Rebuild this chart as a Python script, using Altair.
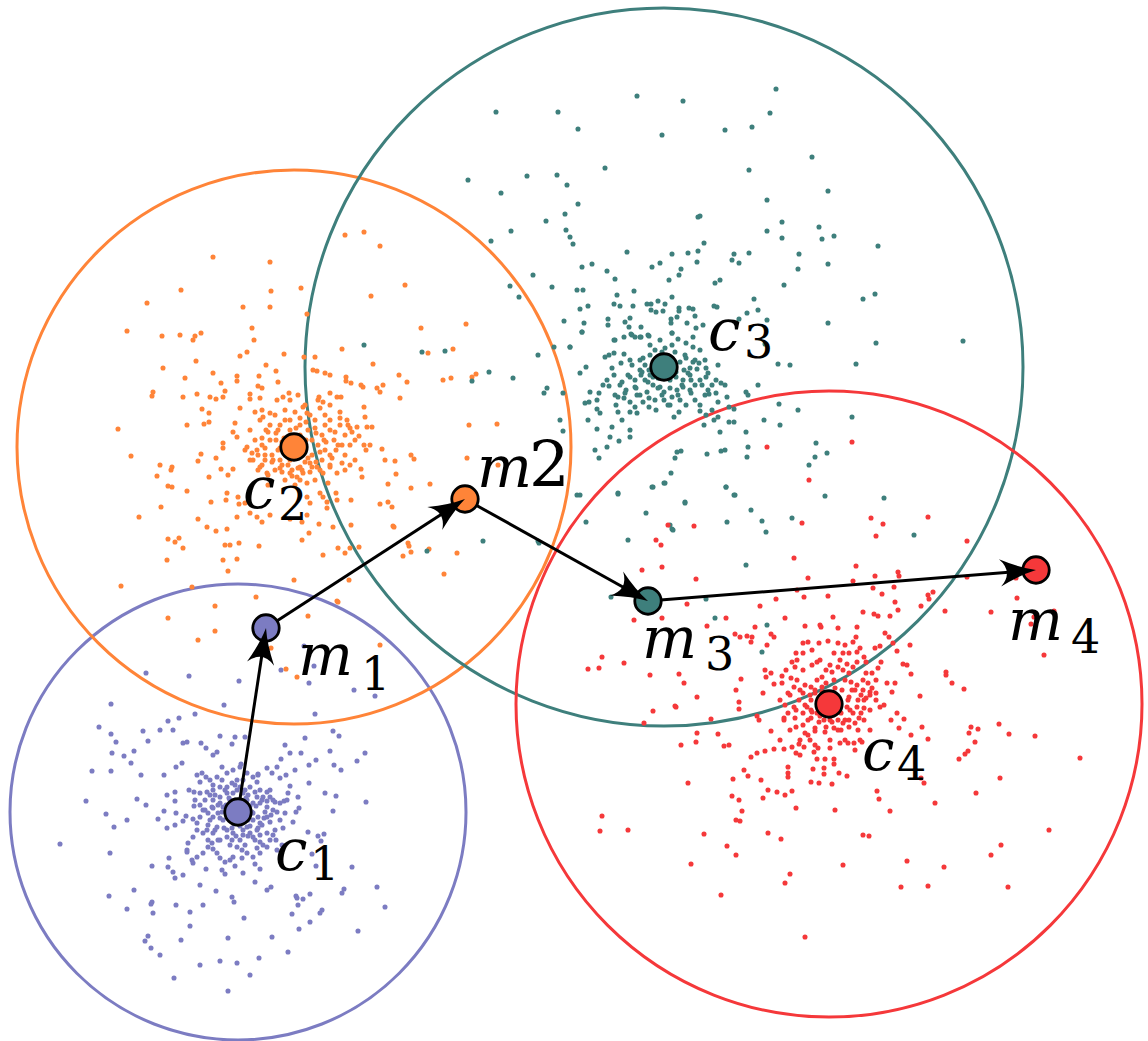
import math
import altair as alt
import pandas as pd

W, H = 1148, 1041

# ---------------- data (picture units, y downward) ----------------
cluster_names = ["c1", "c2", "c3", "c4"]
center_x = [238, 294, 664, 829]
center_y = [812, 447, 367, 704]
radius = [228, 277, 359, 313]
colors = ["#7c7cc2", "#ff8438", "#3e7f7c", "#f5383a"]

mean_names = ["m1", "m2", "m3", "m4"]
mean_x = [266, 465, 648, 1036]
mean_y = [628, 499, 601, 570]

blue_points = [
    (146,673),(189,676),(239,681),(281,670),(304,646),(314,666),(309,683),(354,690),(375,696),(315,714),
    (224,705),(195,714),(179,718),(168,721),(111,704),(99,727),(111,734),(116,742),(143,731),(160,730),
    (173,730),(148,741),(134,751),(112,753),(124,756),(131,763),(92,771),(111,771),(141,775),(164,775),
    (176,767),(182,763),(183,743),(187,742),(201,743),(206,748),(213,755),(217,752),(220,736),(232,744),
    (235,737),(245,737),(241,764),(285,745),(305,738),(333,731),(339,736),(290,753),(301,753),(330,751),
    (365,753),(357,761),(316,760),(309,765),(334,765),(341,770),(281,759),(267,768),(272,773),(277,767),
    (286,775),(295,770),(258,774),(280,778),(290,786),(309,783),(325,793),(336,796),(366,802),(333,811),
    (298,797),(288,793),(284,801),(275,802),(267,801),(299,808),(296,812),(285,813),(293,822),(86,801),
    (137,799),(146,805),(106,814),(127,820),(114,827),(60,844),(110,853),(158,819),(164,811),(167,828),
    (176,813),(175,825),(183,821),(186,816),(193,819),(194,806),(175,792),(167,795),(175,801),(189,790),
    (194,792),(308,832),(318,836),(324,834),(321,841),(312,854),(316,866),(352,867),(377,887),(385,907),
    (344,889),(342,893),(310,894),(303,899),(297,898),(296,896),(298,905),(310,922),(320,913),(322,910),
    (292,914),(299,929),(358,931),(271,887),(267,890),(255,882),(260,869),(243,873),(216,891),(232,897),
    (234,902),(200,885),(183,875),(175,878),(173,872),(168,867),(169,858),(152,866),(187,850),(193,863),
    (206,869),(225,874),(134,890),(109,896),(152,902),(151,904),(153,913),(127,909),(176,905),(203,905),
    (190,912),(190,926),(244,918),(272,937),(228,938),(181,940),(148,936),(145,941),(151,948),(160,955),
    (220,961),(237,963),(259,958),(288,952),(200,965),(174,978),(250,975),(228,991),
    (197,775),(202,773),(206,777),(200,782),(210,780),(213,785),(222,767),(227,773),(233,770),(240,767),
    (247,773),(253,777),(258,775),(257,782),(250,787),(260,790),(267,792),(270,790),(273,800),(280,803),
    (287,800),(273,810),(267,817),(270,822),(275,830),(273,835),(270,840),(267,847),(263,845),(260,842),
    (257,848),(260,853),(253,857),(247,853),(242,850),(237,847),(233,857),(230,860),(225,862),(220,858),
    (217,853),(213,849),(208,847),(203,853),(197,857),(192,860),(187,852),(188,843),(193,837),(197,830),
    (203,833),(207,830),(208,840),(213,833),(220,840),(227,837),(232,840),(240,840),(243,835),(250,833),
    (257,830),(260,823),(258,817),(253,813),(253,803),(247,800),(243,793),(237,790),(233,793),(227,793),
    (220,797),(213,800),(212,807),(208,813),(203,810),(200,817),(197,823),(195,800),(200,793),(207,792),
    (213,790),(220,787),(227,787),(230,800),(247,813),(253,820),(267,807),(260,803),(223,820),(217,827),
    (213,817),(210,820),(223,807),(220,803),(227,830),(233,833),(243,830),(247,827),(253,837),(260,835),
    (267,833),(240,787),(243,780),(237,780),(232,783),(217,777),(222,780),(248,795),(257,797),(263,797),
    (270,797),(227,813),(213,808),(218,813),(226,805),(230,818),(245,806),(248,820),(234,824),(222,812),
    (252,812),(240,826),(229,798),(246,798),(256,806),(220,818),(235,800),(250,826),
    (215,795),(225,790),(235,785),(245,790),(255,792),(262,800),(265,812),(262,825),(255,840),(245,845),
    (230,845),(218,840),(208,825),(205,810),(210,795),(218,805),(228,808),(236,815),(244,818),(250,806),
    (240,800),(232,828),(224,828),(258,828),(264,818),(271,815),(277,812),(280,820),(276,840),(283,828),
    (205,800),(200,805),(215,830),(236,836),(248,836),(212,843),(242,858),(255,864),(235,866),(222,870),
    (277,850),(282,845),
]

orange_points = [
    (213,257),(270,262),(345,235),(364,232),(380,246),(181,290),(271,291),(301,288),(147,303),(243,307),
    (270,307),(307,314),(371,296),(405,285),(127,331),(162,336),(180,335),(193,340),(195,336),(201,333),
    (252,328),(254,340),(247,352),(240,356),(284,354),(304,357),(315,357),(342,349),(421,328),(466,324),
    (428,353),(453,349),(163,368),(196,361),(213,373),(221,383),(185,378),(153,392),(152,396),(183,397),
    (197,394),(210,397),(216,399),(223,397),(225,391),(237,376),(237,381),(259,376),(258,386),(262,388),
    (266,365),(276,371),(278,382),(313,370),(317,371),(325,373),(330,375),(346,377),(346,381),(351,383),
    (361,385),(363,387),(373,364),(377,388),(383,385),(380,392),(399,375),(407,382),(400,398),(443,380),
    (451,378),(472,377),(476,374),(118,429),(187,425),(202,409),(209,413),(204,424),(209,422),(235,423),
    (240,408),(250,394),(250,399),(255,412),(260,398),(263,417),(270,413),(277,400),(283,397),(289,393),
    (298,395),(303,407),(307,413),(319,397),(323,402),(330,393),(337,397),(341,397),(347,420),(350,428),
    (357,427),(365,417),(364,407),(367,427),(372,427),(359,436),(364,445),(370,445),(366,450),(382,449),
    (385,460),(395,461),(411,455),(414,459),(467,458),(469,425),(497,424),(131,456),(160,465),(172,467),
    (171,470),(157,476),(168,486),(172,487),(187,491),(201,454),(198,461),(216,458),(209,477),(221,469),
    (223,443),(223,448),(228,475),(233,469),(233,432),(237,437),(247,447),(252,453),(257,450),(253,460),
    (260,467),(267,473),(273,460),(280,468),(290,473),(297,477),(303,473),(307,483),(300,467),(310,463),
    (317,467),(323,473),(330,467),(328,483),(337,473),(342,463),(350,465),(361,469),(362,477),(388,484),
    (396,474),(411,488),(430,484),(161,507),(139,517),(211,502),(227,493),(226,500),(238,497),(239,504),
    (245,503),(250,513),(257,517),(262,522),(270,515),(237,517),(290,519),(302,522),(307,515),(307,497),
    (310,503),(320,493),(323,497),(327,502),(327,508),(336,493),(337,500),(351,500),(380,504),(388,502),
    (392,507),(393,526),(394,527),(351,525),(333,527),(319,524),(302,540),(309,533),(198,519),(207,527),
    (216,531),(227,529),(168,539),(175,542),(179,538),(183,548),(225,545),(230,545),(239,543),(259,546),
    (167,560),(223,560),(237,559),(228,571),(323,555),(338,548),(345,553),(350,548),(359,547),(403,556),
    (408,543),(409,546),(411,552),(429,549),(457,553),(444,574),(121,586),(192,587),(256,597),(215,606),
    (294,580),(349,580),(337,601),(308,616),(168,618),(198,640),(215,631),(271,648),(286,669),(297,677),
    (338,602),(380,645),(498,465),
    (270,425),(278,430),(285,420),(300,425),(308,430),(315,428),(322,435),(318,445),(325,450),(312,455),
    (305,462),(298,468),(288,465),(280,460),(272,455),(265,448),(262,438),(268,432),(276,440),(284,438),
    (306,440),(316,462),(326,442),(330,430),(334,440),(336,450),(282,472),(292,476),(310,472),(258,455),
    (262,465),(275,470),(285,410),(295,412),(310,415),(325,415),(330,420),(340,425),(345,435),(342,445),
    (320,470),(332,458),(300,480),(268,475),(255,440),(250,430),(260,420),(290,430),(300,435),(280,448),
    (305,450),(312,440),(290,460),(275,415),(320,408),(340,412),(348,425),(350,445),(345,455),(265,460),
    (280,425),(290,420),(300,418),(315,420),(325,425),(335,432),(338,445),(330,455),(322,460),(312,467),
    (302,470),(292,470),(282,465),(272,462),(265,455),(262,445),(266,430),(276,433),(296,428),(306,422),
    (316,433),(324,440),(320,452),(308,458),(296,458),(286,455),(278,450),(270,440),(282,442),(303,443),
    (330,465),(340,418),(352,432),(355,440),(285,480),(295,485),(245,450),(250,460),(258,470),(268,485),
    (315,480),(345,470),(355,460),(290,400),(305,405),(318,400),(262,410),(330,405),
]

teal_points = [
    (637,96),(683,101),(776,89),(770,113),(752,127),(725,130),(662,135),(578,129),(558,112),(496,112),
    (812,157),(749,170),(605,168),(468,180),(527,176),(557,175),(567,185),(501,193),(578,204),(828,191),
    (767,200),(698,217),(700,216),(565,214),(546,221),(511,231),(566,230),(570,237),(573,244),(491,241),
    (782,222),(767,231),(782,238),(819,227),(822,239),(834,236),(878,246),(627,252),(672,254),(688,253),
    (698,251),(704,243),(734,254),(732,260),(739,263),(749,253),(799,254),(798,269),(828,264),(697,262),
    (681,269),(679,275),(660,263),(652,267),(592,264),(582,267),(607,271),(615,279),(669,280),(715,283),
    (720,280),(784,285),(863,299),(875,294),(533,275),(510,286),(519,297),(552,287),(577,290),(583,290),
    (617,295),(634,291),(672,297),(754,299),(588,306),(580,309),(614,304),(620,306),(633,306),(647,304),
    (651,304),(658,301),(665,304),(651,310),(656,312),(663,311),(679,308),(679,311),(689,308),(693,309),
    (695,316),(714,306),(717,307),(747,313),(758,310),(767,320),(828,323),(876,343),(963,341),(564,321),
    (584,323),(582,332),(608,319),(608,325),(625,322),(630,318),(629,327),(641,327),(671,319),(671,323),
    (677,317),(687,323),(696,328),(703,325),(739,319),(554,347),(570,347),(538,355),(615,340),(624,337),
    (631,334),(635,337),(641,337),(649,336),(672,333),(678,339),(686,343),(693,337),(693,347),(765,344),
    (582,332),(614,340),(632,335),(640,337),(648,335),(672,333),(778,364),(790,365),(856,364),(570,347),
    (489,372),(513,378),(472,381),(547,388),(544,393),(563,393),(580,373),(586,367),(605,357),(609,355),
    (614,353),(624,354),(630,360),(621,363),(612,368),(607,380),(603,385),(609,386),(599,393),(590,392),
    (597,400),(597,409),(600,413),(589,402),(585,403),(588,420),(597,429),(612,427),(610,437),(607,447),
    (595,450),(599,458),(619,441),(630,437),(630,430),(622,420),(618,412),(616,405),(630,412),(635,407),
    (637,413),(624,398),(630,402),(618,397),(626,390),(635,387),(637,395),(647,392),(649,398),(643,402),
    (649,407),(656,410),(664,400),(670,405),(674,417),(679,412),(686,405),(695,400),(691,393),(683,387),
    (677,390),(672,397),(664,392),(660,387),(653,385),(645,380),(641,375),(635,380),(630,377),(622,382),
    (614,375),(649,370),(653,377),(676,377),(683,380),(691,380),(695,385),(702,385),(706,377),(708,373),
    (716,380),(721,383),(725,385),(708,390),(709,394),(716,393),(718,402),(727,397),(729,407),(734,409),
    (746,392),(748,395),(758,385),(706,368),(718,365),(699,363),(693,362),(697,369),(688,373),(700,411),
    (706,415),(718,417),(714,420),(704,425),(720,432),(729,422),(734,422),(746,432),(748,447),(747,457),
    (721,451),(725,450),(707,454),(677,452),(681,451),(675,458),(671,473),(664,483),(653,487),(618,493),
    (685,502),(726,487),(735,495),(751,510),(762,521),(766,532),(727,522),(646,513),(628,540),(672,529),
    (670,525),(586,522),(577,495),(560,420),(563,431),(779,404),(798,410),(764,420),(780,425),(816,443),
    (827,453),(815,457),(809,465),(825,496),(852,417),(884,498),(914,535),(792,518),(746,565),(483,541),
    (427,551),(538,541),(611,597),(706,599),(715,618),(767,625),(422,352),(445,351),(364,345),
    (580,495),(618,494),(652,487),(665,483),(726,487),(734,495),(685,503),(539,543),(673,530),(762,652),
    (650,355),(656,360),(672,358),(680,362),(676,372),(684,370),(650,375),(658,378),(670,380),(645,365),
    (690,368),(662,352),(640,360),(652,368),(668,356),(660,372),(642,372),(686,358),
    (655,350),(665,348),(675,352),(685,355),(690,375),(682,385),(670,388),(658,388),(648,382),(640,370),
    (643,358),(650,345),(660,340),(672,345),(695,360),(700,380),(690,390),(678,395),(662,395),(636,388),
    (632,365),(628,375),(705,395),(712,385),(640,395),(625,393),(700,350),(705,360),(620,385),(615,395),
    (655,400),(668,405),(680,400),(712,410),(700,405),
]

red_points = [
    (668,525),(661,545),(656,540),(694,526),(802,523),(871,518),(883,524),(928,517),(876,536),(967,541),
    (794,558),(856,566),(898,572),(899,576),(875,576),(853,581),(808,578),(797,590),(894,587),(873,588),
    (882,594),(933,592),(928,595),(929,599),(921,606),(895,602),(898,610),(863,612),(874,614),(878,616),
    (890,616),(945,611),(991,612),(1017,598),(1016,578),(967,577),(1031,624),(1034,617),(1054,611),(1044,655),
    (828,596),(804,597),(776,599),(760,606),(687,604),(642,570),(662,567),(696,579),(634,620),(662,618),
    (707,626),(726,618),(735,634),(740,637),(747,636),(752,637),(771,634),(774,637),(767,645),(751,642),
    (755,627),(785,618),(805,626),(820,625),(833,617),(838,628),(857,627),(856,637),(853,642),(885,633),
    (889,637),(893,643),(880,646),(875,648),(910,645),(897,651),(903,664),(907,665),(911,674),(920,696),
    (887,683),(895,683),(892,692),(881,662),(878,668),(872,673),(876,680),(868,683),(870,692),(863,690),
    (866,698),(876,700),(880,707),(884,705),(897,713),(904,719),(891,720),(899,728),(911,735),(922,727),
    (928,739),(946,672),(946,675),(952,683),(964,689),(971,727),(978,729),(969,733),(975,742),(968,751),
    (965,754),(959,759),(999,724),(1009,734),(1035,736),(1080,758),(1000,778),(976,793),(935,803),(921,778),
    (924,783),(890,811),(877,791),(879,799),(1049,830),(1001,845),(991,855),(944,867),(907,861),(928,886),
    (901,887),(1008,887),(869,836),(863,835),(843,865),(835,810),(790,874),(785,883),(721,895),(691,864),
    (736,855),(727,846),(781,839),(768,833),(704,834),(740,821),(736,820),(742,811),(796,808),(739,800),
    (732,796),(763,798),(768,790),(777,792),(785,795),(792,791),(761,780),(748,776),(733,779),(744,770),
    (751,757),(757,753),(765,751),(774,749),(784,749),(792,747),(796,753),(788,767),(788,773),(788,777),
    (811,782),(819,783),(832,784),(824,774),(813,769),(824,768),(839,773),(847,776),(834,759),(834,764),
    (825,759),(817,759),(814,752),(804,747),(799,744),(810,740),(818,748),(830,748),(840,743),(848,743),
    (854,743),(862,742),(688,783),(681,745),(696,742),(697,733),(718,734),(724,746),(729,745),(711,719),
    (759,720),(757,716),(771,731),(784,718),(795,718),(796,727),(803,725),(805,733),(815,731),(602,816),
    (600,831),(628,830),(805,937),(653,711),(675,706),(644,723),(697,697),(739,702),(739,709),(736,690),
    (741,679),(763,693),(774,684),(766,677),(771,673),(765,670),(782,676),(786,670),(791,678),(795,667),
    (792,662),(796,653),(803,653),(803,643),(808,642),(812,650),(819,643),(821,627),(828,641),(838,643),
    (843,653),(849,653),(857,652),(860,648),(864,657),(866,662),(857,662),(853,667),(847,664),(843,670),
    (838,667),(832,672),(826,670),(822,677),(817,680),(811,687),(805,685),(803,693),(799,700),(794,707),
    (788,713),(784,720),(796,710),(803,713),(811,718),(819,722),(826,727),(834,728),(841,730),(849,727),
    (855,723),(859,718),(861,713),(864,708),(870,710),(857,707),(853,713),(849,720),(843,723),(838,720),
    (832,722),(824,720),(817,713),(811,710),(807,707),(811,700),(815,693),(822,687),(845,680),(851,682),
    (857,685),(855,690),(861,695),(864,700),(849,697),(847,707),(832,693),(826,697),(822,713),(830,713),
    (841,713),(872,688),(876,693),(863,680),(866,673),(834,653),(845,645),(817,662),(803,670),(794,687),
    (788,693),(780,700),(782,683),(797,680),(849,673),(834,680),(826,683),
    (588,669),(599,668),(602,657),(624,663),(650,675),(684,683),(679,674),(676,707),
    (767,447),(852,442),(809,480),
    (815,690),(822,692),(835,688),(842,690),(848,700),(850,710),(845,720),(838,730),(825,732),(815,728),
    (808,720),(805,705),(810,695),(818,702),(826,700),(836,700),(840,712),(830,720),(820,716),(812,712),
    (858,730),(860,740),(808,735),(800,740),(790,730),(785,705),(790,695),(800,690),(852,690),(858,700),
    (864,720),(870,730),(820,660),(830,665),(840,660),(812,665),(797,660),(815,745),(830,740),(845,740),
    (855,750),(800,755),(780,740),(870,695),
]

point_sets = [blue_points, orange_points, teal_points, red_points]

# ---------------- tables built from the arrays ----------------
rows = []
for name, pts in zip(cluster_names, point_sets):
    for px, py in pts:
        rows.append({"cluster": name, "x": px, "y": py})
dots = pd.DataFrame(rows)

rings = pd.DataFrame({
    "cluster": cluster_names, "x": center_x, "y": center_y,
    "diam2": [(2 * r) ** 2 for r in radius],
})

markers = pd.DataFrame({
    "cluster": cluster_names + cluster_names,
    "x": center_x + mean_x, "y": center_y + mean_y,
})

path_x = [center_x[0]] + mean_x
path_y = [center_y[0]] + mean_y
segs = []
for i in range(len(path_x) - 1):
    x0, y0, x1, y1 = path_x[i], path_y[i], path_x[i + 1], path_y[i + 1]
    ang = math.degrees(math.atan2(y1 - y0, x1 - x0)) % 360
    segs.append({"x": x0, "y": y0, "x2": x1, "y2": y1, "angle": ang})
segs = pd.DataFrame(segs)

# label layout (style): main glyph, subscript, offsets from their point
label_style = {
    "c1": ("c", "1", (37, 58), (72, 68), True),
    "c2": ("c", "2", (-51, 61), (-16, 73), True),
    "c3": ("c", "3", (44, -17), (80, -9), True),
    "c4": ("c", "4", (33, 66), (68, 76), True),
    "m1": ("m", "1", (32, 47), (95, 62), True),
    "m2": ("m", "2", (12, -12), (64, -12), False),
    "m3": ("m", "3", (-6, 57), (57, 69), True),
    "m4": ("m", "4", (-28, 70), (35, 83), True),
}
anchor = {n: (x, y) for n, x, y in zip(cluster_names, center_x, center_y)}
anchor.update({n: (x, y) for n, x, y in zip(mean_names, mean_x, mean_y)})
main_rows, sub_rows = [], []
for n, (g, s, off_g, off_s, is_sub) in label_style.items():
    ax_, ay_ = anchor[n]
    main_rows.append({"t": g, "x": ax_ + off_g[0], "y": ay_ + off_g[1]})
    sub_rows.append({"t": s, "x": ax_ + off_s[0], "y": ay_ + off_s[1], "fs": 46 if is_sub else 64})
main_lbl = pd.DataFrame(main_rows)
sub_lbl = pd.DataFrame(sub_rows)

FONT = "DejaVu Serif"

# ---------------- chart ----------------
xs = alt.Scale(domain=[0, W], nice=False, zero=False)
ys = alt.Scale(domain=[0, H], nice=False, zero=False, reverse=True)
X = alt.X("x:Q", scale=xs, axis=None)
Y = alt.Y("y:Q", scale=ys, axis=None)
col = alt.Scale(domain=cluster_names, range=colors)

ring_layer = alt.Chart(rings).mark_point(filled=False, shape="circle", strokeWidth=3, opacity=1).encode(
    x=X, y=Y,
    color=alt.Color("cluster:N", scale=col, legend=None),
    size=alt.Size("diam2:Q", scale=None),
)

dot_layer = alt.Chart(dots).mark_circle(size=26, opacity=1).encode(
    x=X, y=Y, color=alt.Color("cluster:N", scale=col, legend=None),
)

shaft_layer = alt.Chart(segs).mark_rule(color="black", strokeWidth=3).encode(
    x=X, y=Y, x2="x2:Q", y2="y2:Q",
)

marker_layer = alt.Chart(markers).mark_point(
    filled=True, shape="circle", size=700, stroke="black", strokeWidth=2.8, opacity=1
).encode(
    x=X, y=Y, fill=alt.Fill("cluster:N", scale=col, legend=None),
)

ARROW = "M0,0 Q-0.45,-0.1 -1,-0.38 Q-0.62,0 -1,0.38 Q-0.45,0.1 0,0 Z"
head_layer = alt.Chart(segs).mark_point(
    shape=ARROW, filled=True, color="black", size=5200, opacity=1
).encode(
    x=alt.X("x2:Q", scale=xs, axis=None), y=alt.Y("y2:Q", scale=ys, axis=None),
    angle=alt.Angle("angle:Q", scale=None),
)

main_text = alt.Chart(main_lbl).mark_text(
    font=FONT, fontStyle="italic", fontSize=58, align="left",
    baseline="alphabetic", color="black",
).encode(x=X, y=Y, text="t:N")

sub_text = alt.Chart(sub_lbl).mark_text(
    font=FONT, align="left", baseline="alphabetic", color="black",
).encode(x=X, y=Y, text="t:N", size=alt.Size("fs:Q", scale=None))

chart = alt.layer(
    ring_layer, dot_layer, shaft_layer, marker_layer, head_layer, main_text, sub_text
).properties(
    width=W, height=H, padding=0, autosize=alt.AutoSizeParams(type="none"),
    background="white",
).configure_view(stroke=None)

chart.save("out.html", embed_options={"renderer": "svg", "actions": False})
